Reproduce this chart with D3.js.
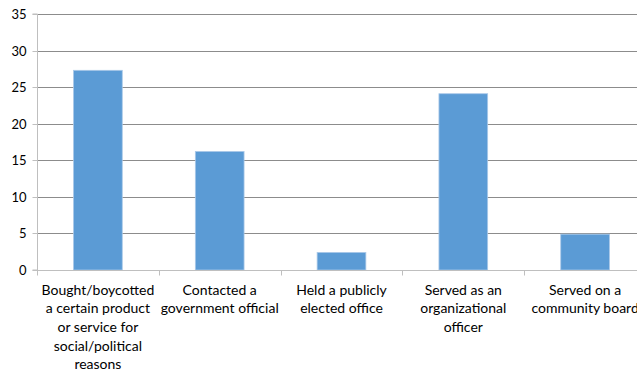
<!DOCTYPE html>
<html>
<head>
<meta charset="utf-8">
<script src="https://cdn.jsdelivr.net/npm/d3@7"></script>
<style>
  html, body { margin: 0; padding: 0; background: #fff; }
  svg { display: block; }
  text { font-family: Lato, "Open Sans", sans-serif; fill: #000; }
</style>
</head>
<body>
<svg id="chart" width="637" height="372"></svg>
<script>
const categories = [
  "Bought/boycotted a certain product or service for social/political reasons",
  "Contacted a government official",
  "Held a publicly elected office",
  "Served as an organizational officer",
  "Served on a community board"
];
const labelLines = [
  ["Bought/boycotted", "a certain product", "or service for", "social/political", "reasons"],
  ["Contacted a", "government official"],
  ["Held a publicly", "elected office"],
  ["Served as an", "organizational", "officer"],
  ["Served on a", "community board"]
];
const values = [27.3, 16.2, 2.4, 24.1, 4.9];
const yTicks = [0, 5, 10, 15, 20, 25, 30, 35];

const svg = d3.select("#chart");
const pL = 37, pR = 646, pT = 14, pB = 270;

const x = d3.scaleBand().domain(categories).range([pL, pR]).padding(0);
const y = d3.scaleLinear().domain([0, 35]).range([pB, pT]);

// gridlines
svg.append("g").selectAll("line").data(yTicks.filter(d => d > 0)).join("line")
  .attr("x1", pL).attr("x2", pR)
  .attr("y1", d => Math.round(y(d)) + 0.5).attr("y2", d => Math.round(y(d)) + 0.5)
  .attr("stroke", "#8c8c8c").attr("stroke-width", 1);

// bars
const bw = x.bandwidth() * 0.4;
svg.append("g").selectAll("rect").data(values).join("rect")
  .attr("x", (d, i) => x(categories[i]) + (x.bandwidth() - bw) / 2)
  .attr("y", d => y(d))
  .attr("width", bw)
  .attr("height", d => y(0) - y(d))
  .attr("fill", "#5b9bd5")
  .attr("stroke", "#a9c8e8").attr("stroke-width", 0.8);

// y axis
const yAxis = svg.append("g").attr("transform", `translate(${pL + 0.5},0)`)
  .call(d3.axisLeft(y).tickValues(yTicks).tickSize(5).tickPadding(6).tickFormat(d3.format("d")));
yAxis.select(".domain").attr("stroke", "#bfbfbf").attr("d", `M-5,${pT}H0V${pB}H-5`);
yAxis.selectAll(".tick line").attr("stroke", "#bfbfbf");
yAxis.selectAll(".tick text").attr("font-size", 13).attr("font-family", "Lato, sans-serif").attr("fill", "#000");
yAxis.selectAll(".tick").attr("transform", d => `translate(0,${Math.round(y(d)) + 0.5})`);

// x axis
const xAxis = svg.append("g").attr("transform", `translate(0,${pB + 0.5})`)
  .call(d3.axisBottom(x).tickSize(0).tickFormat(""));
xAxis.select(".domain").attr("stroke", "#bfbfbf").attr("d", `M${pL},0H${pR}`);
xAxis.selectAll(".tick").remove();
const bounds = categories.map(c => x(c)).concat([x(categories[categories.length - 1]) + x.bandwidth()]);
xAxis.selectAll("line.b").data(bounds).join("line").attr("class", "b")
  .attr("x1", d => Math.round(d) + 0.5).attr("x2", d => Math.round(d) + 0.5)
  .attr("y1", 0).attr("y2", 5).attr("stroke", "#bfbfbf");

// labels
const lbl = svg.append("g");
labelLines.forEach((lines, i) => {
  const cx = x(categories[i]) + x.bandwidth() / 2;
  const t = lbl.append("text").attr("text-anchor", "middle").attr("font-size", 14)
    .attr("x", cx).attr("y", 294.5);
  lines.forEach((ln, j) => {
    t.append("tspan").attr("x", cx).attr("dy", j === 0 ? 0 : 18.7).text(ln);
  });
});
</script>
</body>
</html>
